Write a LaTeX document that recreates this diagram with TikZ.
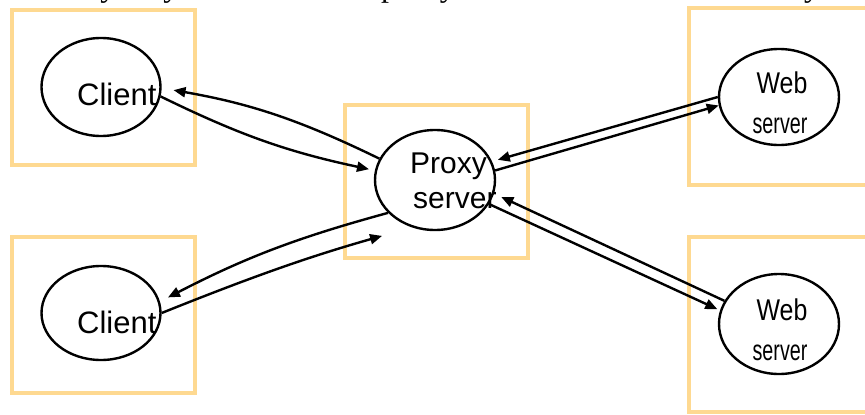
\documentclass[tikz,border=0pt]{standalone}
\usepackage{fontspec}
\setmainfont{Liberation Serif}
\newfontfamily\arialf{Liberation Sans}
\usetikzlibrary{arrows.meta,shapes.geometric,positioning}
\tikzset{>={Triangle[length=12pt,width=10pt]}}
\definecolor{boxyellow}{RGB}{254,217,145}

\begin{document}
\begin{tikzpicture}[x=1pt, y=-1pt, line width=2.4pt,
	host/.style={draw,ellipse,inner sep=0pt,minimum width=119pt,minimum height=98pt},
	ybox/.style={draw=boxyellow,line width=4pt,inner sep=0pt},
	lbl/.style={inner sep=0pt,anchor=base west,font=\arialf\fontsize{31}{35}\selectfont}]
		\clip (0,0) rectangle (865,415);
		% cut-off line of text above the figure
		\node[inner sep=0pt,anchor=base west,font=\fontsize{32}{38}\selectfont] (topline) at (60,-3.5) {they may be located in a proxy server that can be shared by several};
		
		% yellow frames
		\node[ybox,minimum width=183pt,minimum height=155pt] (cbox1) at (103.5,87.5) {};
		\node[ybox,minimum width=183pt,minimum height=156pt] (cbox2) at (103.5,315) {};
		\node[ybox,minimum width=183pt,minimum height=153pt] (pbox)  at (436.5,181.5) {};
		\node[ybox,minimum width=200pt,minimum height=177pt] (wbox1) at (789,96.5) {};
		\node[ybox,minimum width=200pt,minimum height=175pt] (wbox2) at (789,324.5) {};
		
		% hosts
		\node[host] (cl1) at (101,87) {};
		\node[host,minimum height=94pt] (cl2) at (101,313) {};
		\node[host,minimum width=120pt,minimum height=100pt] (px) at (435,180) {};
		\node[host,minimum width=120pt,minimum height=96pt] (wb1) at (779,97) {};
		\node[host,minimum width=120pt,minimum height=100pt] (wb2) at (779,324) {};
		
		\node[lbl] (cl1txt) at (76,105) {Client};
		\node[lbl] (cl2txt) at (76,333) {Client};
		\node[lbl,font=\arialf\fontsize{30}{35}\selectfont] (pxtop) at (409,173) {Proxy};
		\node[lbl,font=\arialf\fontsize{30}{35}\selectfont] (pxbot) at (412,208) {server};
		\node[lbl,anchor=base,font=\arialf\fontsize{30}{35}\selectfont] (wb1top) at (782,93) {\scalebox{0.83}[1]{Web}};
		\node[lbl,anchor=base,font=\arialf\fontsize{29}{35}\selectfont] (wb1bot) at (780,133) {\scalebox{0.68}[1]{server}};
		\node[lbl,anchor=base,font=\arialf\fontsize{30}{35}\selectfont] (wb2top) at (782,320) {\scalebox{0.83}[1]{Web}};
		\node[lbl,anchor=base,font=\arialf\fontsize{29}{35}\selectfont] (wb2bot) at (780,360) {\scalebox{0.68}[1]{server}};
		
		% requests and replies
		\draw[->,shorten >=12pt] (px.159) to[bend right=8] (cl1.-1);
		\draw[->,shorten >=6pt] (cl1.-9) to[bend right=7] (px.171);
		\draw[->,shorten >=9pt] (px.215) to[bend right=6] (cl2.11);
		\draw[->,shorten >=31pt] (cl2.0) to[bend left=3] (px.244);
		
		\draw[->,shorten >=6pt] (wb1.180) -- (px.18);
		\draw[->] (px.9) -- (wb1.188);
		\draw[->,shorten >=8pt] (wb2.157) -- (px.-13);
		\draw[->,shorten >=3pt] (px.-24) -- (wb2.167);
	\end{tikzpicture}
\end{document}
